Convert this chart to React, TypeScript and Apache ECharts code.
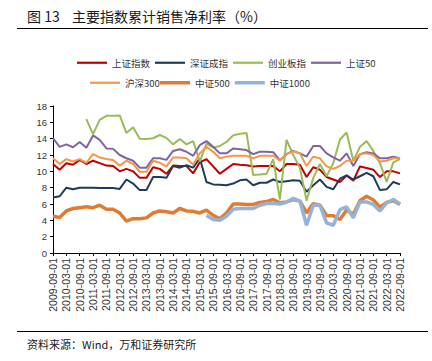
import React, { useEffect, useRef } from "react";
import * as echarts from "echarts";

const categories = [
  "2009-09-01","2009-12-01","2010-03-01","2010-06-01","2010-09-01","2010-12-01",
  "2011-03-01","2011-06-01","2011-09-01","2011-12-01","2012-03-01","2012-06-01",
  "2012-09-01","2012-12-01","2013-03-01","2013-06-01","2013-09-01","2013-12-01",
  "2014-03-01","2014-06-01","2014-09-01","2014-12-01","2015-03-01","2015-06-01",
  "2015-09-01","2015-12-01","2016-03-01","2016-06-01","2016-09-01","2016-12-01",
  "2017-03-01","2017-06-01","2017-09-01","2017-12-01","2018-03-01","2018-06-01",
  "2018-09-01","2018-12-01","2019-03-01","2019-06-01","2019-09-01","2019-12-01",
  "2020-03-01","2020-06-01","2020-09-01","2020-12-01","2021-03-01","2021-06-01",
  "2021-09-01","2021-12-01","2022-03-01","2022-06-01","2022-09-01",
];

const shIndex = [10.9,10.2,11.0,10.8,11.4,10.9,11.3,11.0,10.7,10.65,10.0,10.3,10.0,9.2,9.2,10.5,10.3,9.7,10.7,10.65,10.65,9.75,11.1,11.5,10.6,9.7,10.3,10.9,10.8,10.75,10.6,10.65,10.65,10.65,10.0,10.9,10.9,10.8,9.3,10.5,10.2,9.3,9.0,8.7,9.5,8.85,10.6,10.4,10.2,9.3,10.0,10.0,9.75];
const szIndex = [6.8,6.95,8.0,7.8,8.0,8.0,8.0,7.95,7.95,7.95,7.85,9.0,8.5,7.7,7.7,9.3,9.3,9.2,10.65,10.45,10.75,10.45,11.6,8.7,8.4,8.35,8.3,8.5,8.9,9.0,8.3,8.6,8.6,9.0,8.7,8.8,8.9,8.85,7.5,8.3,9.0,8.1,7.8,9.1,9.5,9.0,9.4,9.8,9.4,7.7,7.8,8.7,8.4];
const cybIndex = [null,null,null,null,null,16.4,14.55,16.3,16.8,16.8,16.85,14.7,15.4,14.0,13.95,14.05,14.45,14.1,13.3,13.95,13.3,13.7,11.2,13.4,12.9,13.1,13.6,14.4,14.6,14.7,9.55,9.6,9.7,11.5,6.55,13.85,12.0,10.45,6.4,9.2,10.9,9.4,11.0,13.9,14.75,11.3,13.0,13.7,12.5,11.0,8.7,11.1,11.5];
const sz50Index = [14.05,13.0,13.3,12.95,13.6,12.9,14.4,13.85,12.8,12.75,12.0,11.6,11.3,10.45,10.45,11.6,11.6,11.4,12.5,12.7,12.4,11.9,13.2,13.7,13.0,12.2,12.2,12.8,12.7,12.6,12.1,12.4,12.4,12.35,11.35,12.1,12.5,12.2,11.8,13.1,13.1,12.2,11.7,11.3,12.2,10.65,12.1,12.35,12.2,11.6,11.6,11.8,11.6];
const hs300Index = [11.6,10.9,11.5,11.2,11.5,11.05,12.1,11.7,11.5,11.4,10.7,11.3,10.9,9.95,9.95,11.3,11.05,10.6,11.7,11.7,11.6,10.8,12.2,13.0,12.4,11.6,11.8,11.9,11.9,11.9,11.6,11.9,11.9,11.9,11.3,12.1,12.45,12.2,10.65,11.8,11.6,10.6,10.3,10.65,11.3,11.3,12.1,12.2,12.0,11.2,11.3,11.6,11.6];
const zz500Index = [4.5,4.35,5.15,5.45,5.55,5.65,5.55,5.85,5.35,5.35,4.9,3.9,4.2,4.2,4.3,4.9,5.15,5.05,4.9,5.45,5.15,5.1,4.9,5.25,4.6,4.2,4.9,6.0,6.0,5.95,5.95,6.2,6.3,6.55,6.15,6.25,6.55,6.35,4.9,6.05,5.85,4.6,4.55,4.1,5.25,4.75,6.4,6.95,6.5,5.6,6.2,6.4,5.95];
const zz1000Index = [null,null,null,null,null,null,null,null,null,null,null,null,null,null,null,null,null,null,null,null,null,null,null,4.6,4.1,4.0,4.5,5.35,5.45,5.45,5.45,5.85,6.05,6.05,6.0,6.2,6.7,6.35,3.4,5.85,5.85,3.7,3.4,5.3,5.65,4.3,6.25,6.25,5.95,5.15,6.15,6.55,6.0];

const yTicks = { min: 0, max: 18, interval: 2 };

const titleLeft = "图 13";
const titleMain = "主要指数累计销售净利率（%）";
const sourceText = "资料来源：Wind，万和证券研究所";

const FONT = "'Noto Sans CJK SC', 'Liberation Sans', sans-serif";

export default function App() {
  const ref = useRef<HTMLDivElement>(null);

  useEffect(() => {
    if (!ref.current) return;
    const chart = echarts.init(ref.current, undefined, { renderer: "svg" });

    const mk = (name: string, data: (number | null)[], color: string, width: number) => ({
      name,
      type: "line",
      data,
      symbol: "none",
      connectNulls: false,
      lineStyle: { color, width },
      itemStyle: { color },
    });

    const legendText = { fontSize: 9.5, color: "#333", fontFamily: FONT };
    const legendBase = {
      icon: "rect",
      itemWidth: 30,
      itemGap: 5,
      textStyle: legendText,
    };

    chart.setOption({
      animation: false,
      backgroundColor: "#fff",
      textStyle: { fontFamily: FONT },
      legend: [
        {
          ...legendBase,
          data: ["上证指数", "深证成指", "创业板指", "上证50"],
          left: 72,
          top: 53,
          itemHeight: 2.2,
        },
        {
          ...legendBase,
          data: ["沪深300"],
          left: 85,
          top: 73,
          itemHeight: 2.2,
        },
        {
          ...legendBase,
          data: ["中证500", "中证1000"],
          left: 155,
          top: 73,
          itemHeight: 3.5,
        },
      ],
      grid: { left: 53, right: 32, top: 106, bottom: 108, containLabel: false },
      xAxis: {
        type: "category",
        data: categories,
        boundaryGap: false,
        axisLine: { lineStyle: { color: "#000", width: 1 } },
        axisTick: { show: true, interval: 1, length: 3, lineStyle: { color: "#000" } },
        axisLabel: {
          interval: 1,
          rotate: 90,
          fontSize: 10.5,
          color: "#333",
          margin: 5,
          fontFamily: "'Liberation Sans', Arial, sans-serif",
        },
        splitLine: { show: false },
      },
      yAxis: {
        type: "value",
        min: yTicks.min,
        max: yTicks.max,
        interval: yTicks.interval,
        axisLine: { show: true, lineStyle: { color: "#000", width: 1 } },
        axisTick: { show: true, length: 3, lineStyle: { color: "#000" } },
        axisLabel: {
          fontSize: 9.5,
          color: "#333",
          margin: 6,
          fontFamily: "'Liberation Sans', Arial, sans-serif",
        },
        splitLine: { show: false },
      },
      series: [
        mk("上证指数", shIndex, "#C00000", 2),
        mk("深证成指", szIndex, "#1F3A5F", 2),
        mk("创业板指", cybIndex, "#9BBB59", 2),
        mk("上证50", sz50Index, "#8064A2", 2),
        mk("沪深300", hs300Index, "#F79646", 2),
        mk("中证500", zz500Index, "#E27B32", 3.5),
        mk("中证1000", zz1000Index, "#95B3D7", 3.5),
      ],
      graphic: [
        {
          type: "text",
          left: 27,
          top: 9,
          style: { text: titleLeft, fontSize: 14, fill: "#1a1a1a", fontFamily: FONT },
        },
        {
          type: "text",
          left: 72,
          top: 9,
          style: { text: titleMain, fontSize: 14, fill: "#1a1a1a", fontFamily: FONT },
        },
        {
          type: "line",
          shape: { x1: 17, y1: 28.5, x2: 428, y2: 28.5 },
          style: { stroke: "#000", lineWidth: 1 },
        },
        {
          type: "line",
          shape: { x1: 17, y1: 331.5, x2: 428, y2: 331.5 },
          style: { stroke: "#000", lineWidth: 1 },
        },
        {
          type: "text",
          left: 27,
          top: 338,
          style: { text: sourceText, fontSize: 11, fill: "#1a1a1a", fontFamily: FONT },
        },
      ],
    });

    return () => chart.dispose();
  }, []);

  return (
    <div
      ref={ref}
      style={{ position: "fixed", left: 0, top: 0, width: 432, height: 361, background: "#fff" }}
    />
  );
}
